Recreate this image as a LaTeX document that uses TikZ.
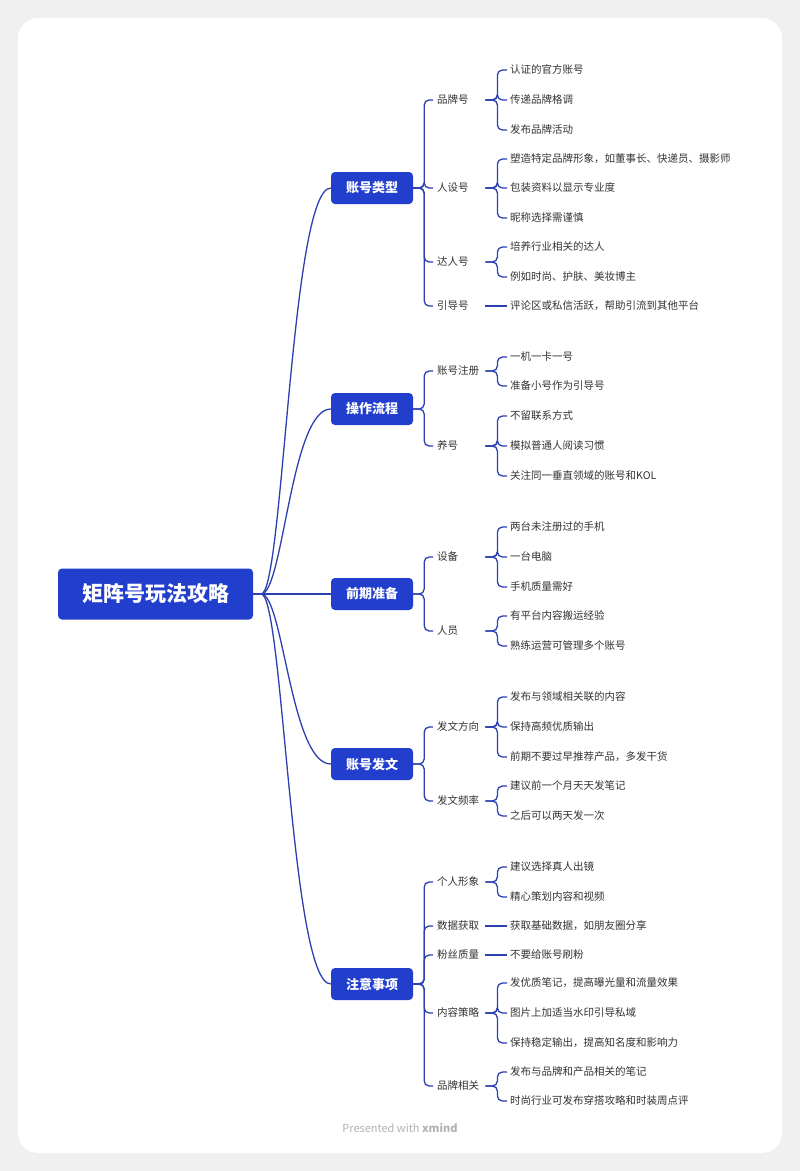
\documentclass[tikz,border=0pt]{standalone}
\usepackage{fontspec}
\setmainfont{Noto Sans CJK SC}
\definecolor{xblue}{RGB}{34,62,204}
\definecolor{xline}{RGB}{44,64,176}
\tikzset{
  root/.style={fill=xblue,rounded corners=4,text=white,font=\fontsize{21}{24}\selectfont\bfseries,minimum width=195,minimum height=51},
  topic/.style={fill=xblue,rounded corners=4,text=white,font=\fontsize{13}{15}\selectfont\bfseries,minimum width=82,minimum height=32},
  sub/.style={anchor=west,text width=44,inner sep=4,text height=8.5,text depth=2,font=\fontsize{10.5}{12}\selectfont,text=black!80},
  leaf/.style={anchor=west,inner sep=3,text height=8.5,text depth=2,font=\fontsize{10.5}{12}\selectfont,text=black!80},
  br/.style={draw=xline,line width=1.3,rounded corners=5},
}
\begin{document}
\begin{tikzpicture}[x=1pt,y=-1pt]
% background and card
\fill[black!6] (0,0) rectangle (800,1171);
\fill[white,rounded corners=20] (18,18) rectangle (782,1153);

% Main nodes
\node[root] (r) at (155.5,594) {矩阵号玩法攻略};
\node[topic] (t1) at (372,188) {账号类型};
\node[topic] (t2) at (372,409) {操作流程};
\node[topic] (t3) at (372,594) {前期准备};
\node[topic] (t4) at (372,764) {账号发文};
\node[topic] (t5) at (372,984) {注意事项};
\foreach \t in {t1,t2,t3,t4,t5}
  \draw[xline,line width=1.3] (r.east) -- ++(8,0) .. controls +(22,0) and +(-40,0) .. (\t.west);

% Sub topics
\foreach \n/\y/\s in {m1/100/品牌号,m2/188/人设号,m3/262/达人号,m4/306/引导号,
  m5/371/账号注册,m6/446/养号,m7/557/设备,m8/631/人员,m9/727/发文方向,m10/801/发文频率,
  m11/882/个人形象,m12/926/数据获取,m13/955/粉丝质量,m14/1013/内容策略,m15/1086/品牌相关}
  \node[sub] (\n) at (433,\y) {\s};
\foreach \t/\m in {t1/m1,t1/m2,t1/m3,t1/m4,t2/m5,t2/m6,t3/m7,t3/m8,t4/m9,t4/m10,
  t5/m11,t5/m12,t5/m13,t5/m14,t5/m15}
  \draw[br] (\t.east) -- ++(11,0) |- (\m.west);

% Leaves
\foreach \n/\y/\s in {a1/70/认证的官方账号,a2/100/传递品牌格调,a3/130/发布品牌活动,
  a4/159/塑造特定品牌形象，如董事长、快递员、摄影师,a5/188/包装资料以显示专业度,a6/218/昵称选择需谨慎,
  a7/247/培养行业相关的达人,a8/277/例如时尚、护肤、美妆博主,a9/306/评论区或私信活跃，帮助引流到其他平台,
  a10/357/一机一卡一号,a11/386/准备小号作为引导号,
  a12/416/不留联系方式,a13/446/模拟普通人阅读习惯,a14/476/关注同一垂直领域的账号和KOL,
  a15/527/两台未注册过的手机,a16/557/一台电脑,a17/587/手机质量需好,
  a18/616/有平台内容搬运经验,a19/646/熟练运营可管理多个账号,
  a20/697/发布与领域相关联的内容,a21/727/保持高频优质输出,a22/757/前期不要过早推荐产品，多发干货,
  a23/786/建议前一个月天天发笔记,a24/816/之后可以两天发一次,
  a25/867/建议选择真人出镜,a26/897/精心策划内容和视频,
  a27/926/获取基础数据，如朋友圈分享,
  a28/955/不要给账号刷粉,
  a29/983/发优质笔记，提高曝光量和流量效果,a30/1013/图片上加适当水印引导私域,a31/1043/保持稳定输出，提高知名度和影响力,
  a32/1072/发布与品牌和产品相关的笔记,a33/1101/时尚行业可发布穿搭攻略和时装周点评}
  \node[leaf] (\n) at (507,\y) {\s};
\foreach \m/\a in {m1/a1,m1/a2,m1/a3,m2/a4,m2/a5,m2/a6,m3/a7,m3/a8,
  m5/a10,m5/a11,m6/a12,m6/a13,m6/a14,m7/a15,m7/a16,m7/a17,m8/a18,m8/a19,
  m9/a20,m9/a21,m9/a22,m10/a23,m10/a24,m11/a25,m11/a26,
  m14/a29,m14/a30,m14/a31,m15/a32,m15/a33}
  \draw[br] (\m.east) -- ++(12,0) |- (\a.west);
\foreach \m/\a in {m4/a9,m12/a27,m13/a28}
  \draw[br] (\m.east) -- (\a.west);

% Text Node
\node[text=black!30,font=\fontsize{11}{13}\selectfont] (ft) at (400,1128) {Presented with \textbf{xmind}};
\end{tikzpicture}
\end{document}
